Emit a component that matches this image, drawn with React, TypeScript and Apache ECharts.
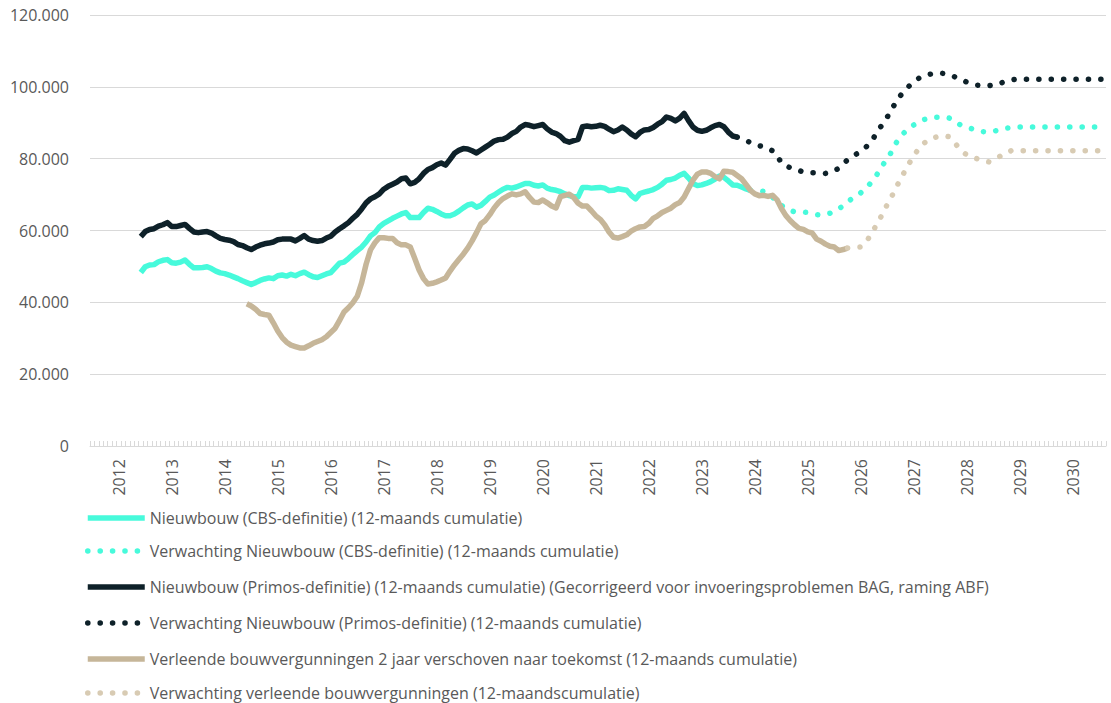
import React, { useEffect, useRef } from "react";
import * as echarts from "echarts";

// Monthly category axis: July 2011 .. August 2030 (230 months)
const startYear = 2011;
const startMonth = 7;
const monthCount = 230;
const months: string[] = [];
for (let i = 0; i < monthCount; i++) {
  const m = startMonth - 1 + i;
  const y = startYear + Math.floor(m / 12);
  const mm = (m % 12) + 1;
  months.push(`${y}-${mm < 10 ? "0" + mm : mm}`);
}

// Values in thousands of dwellings (12-month cumulative)
const cbsStart = 11;
const cbsActual = [
  48.3, 49.9, 50.4, 50.5, 51.3, 51.7, 51.9, 51.0, 50.9, 51.2,
  51.8, 50.6, 49.6, 49.6, 49.7, 49.9, 49.4, 48.7, 48.2, 48.0,
  47.6, 47.1, 46.6, 46.0, 45.5, 45.0, 45.5, 46.1, 46.5, 46.8,
  46.6, 47.4, 47.6, 47.3, 47.8, 47.4, 48.0, 48.4, 47.7, 47.1,
  46.9, 47.4, 47.9, 48.3, 49.6, 50.9, 51.2, 52.2, 53.3, 54.4,
  55.4, 56.8, 58.5, 59.4, 61.0, 62.0, 62.7, 63.4, 64.0, 64.6,
  65.0, 63.6, 63.6, 63.6, 65.0, 66.2, 65.9, 65.3, 64.6, 64.1,
  64.1, 64.6, 65.4, 66.3, 67.1, 67.4, 66.5, 67.0, 68.1, 69.3,
  69.9, 70.7, 71.5, 72.0, 71.8, 72.1, 72.6, 73.1, 73.1, 72.6,
  72.4, 72.7, 71.8, 71.4, 71.2, 70.8, 70.2, 69.7, 69.4, 69.4,
  72.0, 72.0, 71.8, 71.9, 72.0, 71.8, 71.1, 71.2, 71.6, 71.4,
  71.2, 69.8, 68.8, 70.3, 70.7, 71.0, 71.4, 72.0, 72.9, 74.0,
  74.2, 74.6, 75.4, 75.9, 74.6, 73.1, 72.5, 72.7, 73.1, 73.6,
  74.3, 75.2, 74.8, 73.8, 72.7, 72.6, 72.1, 71.6, 71.2,
];
const cbsForecastStart = 149;
const cbsForecast = [
  71.2, 71.1,
  71.0, 70.9, 70.4, 69.3, 68.0, 67.0, 66.1, 65.6, 65.2, 65.1,
  65.1, 65.0, 64.7, 64.4, 64.3, 64.5, 64.8, 65.3, 66.0, 66.9,
  67.9, 68.9, 69.7, 70.5, 71.7, 72.9, 74.5, 76.2, 78.3, 80.0,
  82.0, 84.4, 86.1, 87.5, 88.6, 89.4, 90.1, 90.8, 91.1, 91.3,
  91.5, 91.5, 91.5, 91.3, 90.6, 89.7, 89.2, 88.8, 88.4, 88.0,
  87.6, 87.5, 87.5, 87.6, 87.9, 88.2, 88.5, 88.6, 88.7, 88.8,
  88.8, 88.8, 88.8, 88.8, 88.8, 88.8, 88.8, 88.8, 88.8, 88.8,
  88.8, 88.8, 88.8, 88.8, 88.8, 88.8, 88.8, 88.8,
];

const primosStart = 11;
const primosActual = [
  58.3, 59.7, 60.3, 60.5, 61.2, 61.6, 62.2, 61.1, 61.1, 61.4,
  61.7, 60.6, 59.6, 59.4, 59.6, 59.7, 59.3, 58.5, 57.8, 57.5,
  57.3, 56.9, 56.1, 55.8, 55.2, 54.7, 55.4, 55.9, 56.3, 56.5,
  56.8, 57.4, 57.6, 57.6, 57.6, 57.1, 57.8, 58.6, 57.6, 57.2,
  57.0, 57.2, 57.9, 58.4, 59.6, 60.5, 61.3, 62.2, 63.4, 64.5,
  66.0, 67.7, 68.8, 69.4, 70.2, 71.5, 72.3, 72.9, 73.5, 74.4,
  74.6, 73.0, 73.4, 74.4, 75.9, 77.0, 77.5, 78.3, 78.8, 78.2,
  79.8, 81.5, 82.3, 82.8, 82.7, 82.2, 81.6, 82.4, 83.2, 84.0,
  84.9, 85.3, 85.4, 86.0, 87.0, 87.6, 88.8, 89.5, 89.3, 88.9,
  89.2, 89.5, 88.3, 87.4, 87.0, 86.2, 85.0, 84.6, 85.0, 85.4,
  88.9, 89.1, 88.9, 89.0, 89.3, 89.0, 88.2, 87.5, 88.0, 88.8,
  88.0, 86.9, 86.1, 87.3, 88.0, 88.1, 88.7, 89.6, 90.3, 91.6,
  91.2, 90.5, 91.3, 92.6, 90.6, 88.8, 87.9, 87.6, 87.9, 88.6,
  89.2, 89.5, 88.9, 87.4, 86.3, 86.0,
];
const primosForecastStart = 146;
const primosForecast = [
  86.0, 85.5, 85.0, 84.5, 84.0,
  83.6, 83.3, 82.8, 82.2, 81.0, 78.8, 78.0, 77.5, 77.1, 76.7,
  76.3, 76.2, 76.1, 76.1, 76.0, 75.9, 76.2, 76.7, 77.3, 78.5,
  79.7, 80.5, 81.3, 82.1, 83.0, 84.3, 86.0, 88.2, 89.6, 91.6,
  93.9, 95.7, 97.6, 99.1, 100.3, 101.3, 102.3, 102.9, 103.3, 103.6,
  103.7, 103.8, 103.7, 103.4, 102.9, 102.4, 101.9, 101.3, 100.9, 100.5,
  100.4, 100.3, 100.3, 100.5, 100.8, 101.2, 101.5, 101.9, 102.1, 102.1,
  102.1, 102.1, 102.1, 102.1, 102.1, 102.1, 102.1, 102.1, 102.1, 102.1,
  102.1, 102.1, 102.1, 102.1, 102.1, 102.1, 102.1, 102.1, 102.1,
];

const permitsStart = 35;
const permitsActual = [
  39.6, 39.0, 38.1, 36.9, 36.6, 36.4,
  34.3, 32.0, 30.2, 28.9, 28.1, 27.7, 27.3, 27.3, 27.9, 28.6,
  29.1, 29.6, 30.4, 31.6, 32.8, 35.0, 37.3, 38.5, 39.9, 41.7,
  45.5, 50.6, 54.6, 56.6, 58.0, 58.0, 57.8, 57.8, 56.6, 56.0,
  56.0, 55.4, 52.3, 49.0, 46.6, 45.1, 45.3, 45.7, 46.2, 46.8,
  48.7, 50.4, 51.9, 53.4, 55.1, 57.1, 59.4, 61.9, 62.8, 64.4,
  66.3, 67.8, 68.9, 69.6, 70.2, 69.9, 70.2, 70.8, 69.2, 67.9,
  67.8, 68.5, 67.7, 66.8, 66.3, 69.4, 69.8, 70.1, 69.2, 67.6,
  66.8, 66.8, 65.5, 64.1, 63.1, 61.6, 59.6, 58.1, 57.9, 58.3,
  58.8, 59.8, 60.5, 61.0, 61.1, 62.0, 63.4, 64.1, 65.0, 65.6,
  66.2, 67.2, 67.8, 69.3, 71.7, 74.0, 75.7, 76.3, 76.3, 75.9,
  75.0, 74.4, 76.5, 76.4, 76.2, 75.3, 74.4, 72.8, 71.2, 70.2,
  69.7, 69.8, 69.5, 69.8, 68.6, 66.2, 64.2, 62.8, 61.6, 60.6,
  60.3, 59.6, 59.3, 57.6, 57.0, 56.2, 55.6, 55.4, 54.4, 54.7, 55.1,
];
const permitsForecastStart = 171;
const permitsForecast = [
  55.1, 55.2, 55.3, 55.4, 56.5, 58.3, 60.4, 62.6, 64.8, 67.3,
  69.5, 72.0, 74.4, 76.6, 78.8, 80.8, 82.6, 84.0, 85.0, 85.6,
  86.0, 86.2, 86.3, 86.1, 84.8, 83.3, 82.0, 81.0, 80.5, 80.1,
  79.7, 79.3, 79.1, 79.6, 80.3, 81.0, 81.7, 82.2, 82.2, 82.2,
  82.2, 82.2, 82.2, 82.2, 82.2, 82.2, 82.2, 82.2, 82.2, 82.2,
  82.2, 82.2, 82.2, 82.2, 82.2, 82.2, 82.2, 82.2,
];

const seriesNames = [
  "Nieuwbouw (CBS-definitie) (12-maands cumulatie)",
  "Verwachting Nieuwbouw (CBS-definitie) (12-maands cumulatie)",
  "Nieuwbouw (Primos-definitie) (12-maands cumulatie) (Gecorrigeerd voor invoeringsproblemen BAG, raming ABF)",
  "Verwachting Nieuwbouw (Primos-definitie) (12-maands cumulatie)",
  "Verleende bouwvergunningen 2 jaar verschoven naar toekomst (12-maands cumulatie)",
  "Verwachting verleende bouwvergunningen (12-maandscumulatie)",
];
const legendTops = [510, 543, 579, 615, 651, 685];

const CYAN = "#47FADB";
const DARK = "#0E2129";
const TAN = "#C6B699";
const TAN_LIGHT = "#D8CBB3";
const FONT = "'Open Sans', sans-serif";

function pad(start: number, values: number[]): (number | null)[] {
  const out: (number | null)[] = [];
  for (let i = 0; i < start; i++) out.push(null);
  return out.concat(values);
}

function lineSeries(name: string, data: (number | null)[], color: string, dotted: boolean) {
  return {
    type: "line",
    name,
    data,
    symbol: "none",
    showSymbol: false,
    connectNulls: false,
    emphasis: { disabled: true },
    itemStyle: { color },
    lineStyle: dotted
      ? { color, width: 5.5, type: [0.1, 12.3], cap: "round", join: "round" }
      : { color, width: 5.5, cap: "butt", join: "round" },
  };
}

export default function App() {
  const ref = useRef<HTMLDivElement>(null);
  useEffect(() => {
    if (!ref.current) return;
    const chart = echarts.init(ref.current, undefined, { renderer: "svg" });
    chart.setOption({
      animation: false,
      backgroundColor: "#ffffff",
      grid: {
        left: 90,
        right: 5,
        top: 15,
        bottom: 257,
        containLabel: false,
        outerBoundsMode: "none",
      },
      legend: seriesNames.map((name, i) => ({
        orient: "horizontal",
        left: 85,
        top: legendTops[i],
        padding: 0,
        itemWidth: 57,
        itemHeight: 14,
        data: [name],
        lineStyle: { width: "inherit" },
        itemStyle: { opacity: 0 },
        textStyle: { color: "#595959", fontSize: 16, lineHeight: 16, fontFamily: FONT },
        selectedMode: false,
      })),
      xAxis: {
        type: "category",
        data: months,
        boundaryGap: true,
        axisLine: { show: true, lineStyle: { color: "#d9d9d9", width: 1 } },
        axisTick: {
          show: true,
          interval: 0,
          inside: true,
          length: 5,
          lineStyle: { color: "#d9d9d9", width: 1 },
        },
        axisLabel: {
          interval: (index: number) => index % 12 === 6,
          formatter: (v: string) => v.slice(0, 4),
          rotate: 90,
          margin: 13,
          color: "#595959",
          fontSize: 16,
          fontFamily: FONT,
        },
        splitLine: { show: false },
      },
      yAxis: {
        type: "value",
        min: 0,
        max: 120,
        interval: 20,
        axisLine: { show: false },
        axisTick: { show: false },
        axisLabel: {
          formatter: (v: number) => (v === 0 ? "0" : `${v}.000`),
          color: "#595959",
          fontSize: 16,
          fontFamily: FONT,
          margin: 21,
        },
        splitLine: { lineStyle: { color: "#d9d9d9", width: 1 } },
      },
      series: [
        lineSeries(seriesNames[0], pad(cbsStart, cbsActual), CYAN, false),
        lineSeries(seriesNames[1], pad(cbsForecastStart, cbsForecast), CYAN, true),
        lineSeries(seriesNames[2], pad(primosStart, primosActual), DARK, false),
        lineSeries(seriesNames[3], pad(primosForecastStart, primosForecast), DARK, true),
        lineSeries(seriesNames[4], pad(permitsStart, permitsActual), TAN, false),
        lineSeries(seriesNames[5], pad(permitsForecastStart, permitsForecast), TAN_LIGHT, true),
      ],
    });
    return () => chart.dispose();
  }, []);
  return (
    <div
      ref={ref}
      style={{ position: "fixed", left: 0, top: 0, width: 1111, height: 703, background: "#fff" }}
    />
  );
}
